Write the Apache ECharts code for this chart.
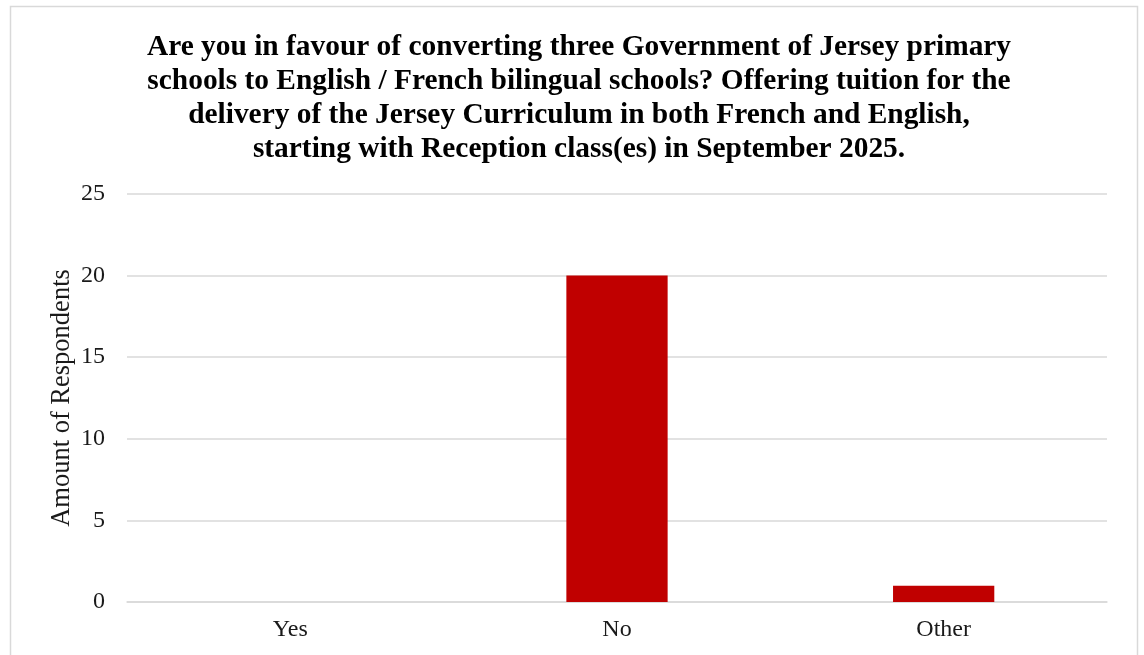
<!DOCTYPE html>
<html>
<head>
<meta charset="utf-8">
<script src="https://cdn.jsdelivr.net/npm/echarts@6/dist/echarts.min.js"></script>
<style>
  html, body { margin: 0; padding: 0; background: #fff; }
  #chart { width: 1144px; height: 655px; }
</style>
</head>
<body>
<div id="chart"></div>
<script>
// Survey answers and respondent counts
const categories = ['Yes', 'No', 'Other'];
const respondents = [0, 20, 1];
const yTicks = { min: 0, max: 25, interval: 5 };

const titleText = 'Are you in favour of converting three Government of Jersey primary\n' +
  'schools to English / French bilingual schools? Offering tuition for the\n' +
  'delivery of the Jersey Curriculum in both French and English,\n' +
  'starting with Reception class(es) in September 2025.';

const serif = '"Liberation Serif", "DejaVu Serif", serif';

const chart = echarts.init(document.getElementById('chart'), null, { renderer: 'canvas' });
chart.setOption({
  animation: false,
  backgroundColor: '#fff',
  title: {
    text: titleText,
    left: 574,
    top: 25,
    textAlign: 'center',
    textStyle: {
      fontFamily: serif,
      fontWeight: 'bold',
      fontSize: 29.4,
      lineHeight: 34,
      color: '#000'
    }
  },
  graphic: [{
    type: 'rect',
    shape: { x: 10.5, y: 6.5, width: 1127, height: 700 },
    style: { fill: 'none', stroke: '#d9d9d9', lineWidth: 1.5 },
    silent: true
  }],
  grid: { left: 127, right: 37, top: 194, bottom: 53 },
  xAxis: {
    type: 'category',
    data: categories,
    axisLine: { show: true, lineStyle: { color: '#d9d9d9', width: 1.5 } },
    axisTick: { show: false },
    axisLabel: { fontFamily: serif, fontSize: 24, color: '#1a1a1a', margin: 16 }
  },
  yAxis: {
    type: 'value',
    min: yTicks.min,
    max: yTicks.max,
    interval: yTicks.interval,
    name: 'Amount of Respondents',
    nameLocation: 'middle',
    nameGap: 51,
    nameMoveOverlap: false,
    nameTextStyle: { fontFamily: serif, fontSize: 26.5, color: '#1a1a1a' },
    axisLine: { show: false },
    axisTick: { show: false },
    axisLabel: { fontFamily: serif, fontSize: 24, color: '#1a1a1a', margin: 22 },
    splitLine: { lineStyle: { color: '#d9d9d9', width: 1.5 } }
  },
  series: [{
    type: 'bar',
    data: respondents,
    barWidth: '31%',
    itemStyle: { color: '#c00000' }
  }]
});
</script>
</body>
</html>
